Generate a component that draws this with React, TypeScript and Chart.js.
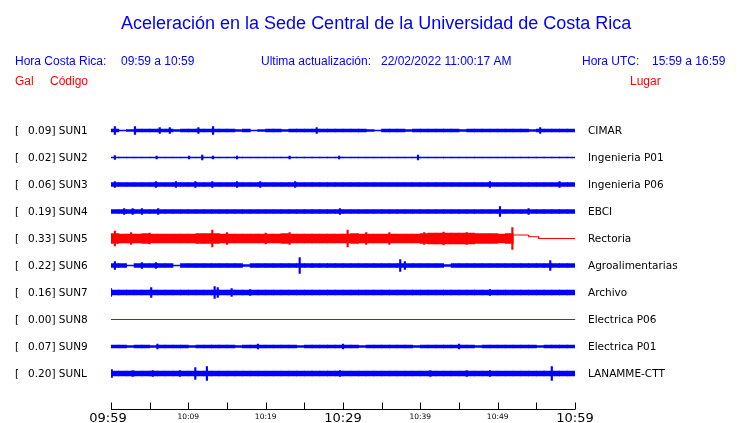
import React, { useEffect, useRef } from "react";
import { Chart, registerables } from "chart.js";

Chart.register(...registerables);

// ---- Data ----
const stations = ["SUN1", "SUN2", "SUN3", "SUN4", "SUN5", "SUN6", "SUN7", "SUN8", "SUN9", "SUNL"];
const peakGal = ["0.09", "0.02", "0.06", "0.19", "0.33", "0.22", "0.16", "0.00", "0.07", "0.20"];
const places = [
  "CIMAR", "Ingenieria P01", "Ingenieria P06", "EBCI", "Rectoria",
  "Agroalimentarias", "Archivo", "Electrica P06", "Electrica P01", "LANAMME-CTT",
];
const traceColors = [
  "#0000ff", "#0000ff", "#0000ff", "#0000ff", "#ff0000",
  "#0000ff", "#0000ff", "#e00000", "#0000ff", "#0000ff",
];

// time axis (minutes after 09:59)
const tickMinutes = [0, 5, 10, 15, 20, 25, 30, 35, 40, 45, 50, 55, 60];
const tickLabels = ["09:59", "", "10:09", "", "10:19", "", "10:29", "", "10:39", "", "10:49", "", "10:59"];
const majorTickLabels = ["09:59", "10:29", "10:59"];

// per-minute envelope half-amplitudes (counts) for each trace
const env1 = [1.5,0.5,1,1.5,1.5,1.5,1.5,1.5,1,1.5,1.5,1.5,1.5,1.5,1.5,1.5,1,1.5,0.5,1,1.5,1.5,1,1.5,1.5,1.5,1.5,1.5,1.5,1.5,1.5,1.5,1.5,1,0.5,1.5,1.5,1.5,1,1.5,1.5,1.5,1.5,1.5,1.5,1,1.5,1.5,1.5,1.5,1.5,1.5,1.5,1.5,1,1.5,1.5,1.5,1.5,1.5];
const env2 = [0.5,0.5,0.5,0.5,0.5,0.5,0.5,0.5,0.5,0.5,0.5,0.5,0.5,0.5,0.5,0.5,0.5,0.5,0.5,0.5,0.5,0.5,0.5,0.5,0.5,0.5,0.5,0.5,0.5,0.5,0.5,0.5,0.5,0.5,0.5,0.5,0.5,0.5,0.5,0.5,0.5,0.5,0.5,0.5,0.5,0.5,0.5,0.5,0.5,0.5,0.5,0.5,0.5,0.5,0.5,0.5,0.5,0.5,0.5,0.5];
const env3 = [2,2,2,2,2,2,2,2,2,2,2,2,2,2,2,2,2,2,2,2,2,2,2,2,2,2,2,2,2,2,2,2,2,2,2,2,2,2,2,2,2,2,2,2,2,2,2,2,2,2,2,2,2,2,2,2,2,2,2,2];
const env4 = [2,2,2,2,2,2,2,2,2,2,2,2,2,2,2,2,2,2,2,2,2,2,2,2,2,2,2,2,2,2,2,2,2,2,2,2,2,2,2,2,2,2,2,2,2,2,2,2,2,2,2,2,2,2,2,2,2,2,2,2];
const env5 = [5,4.5,4.5,4.5,5,4.5,4.5,4.5,4.5,4.5,4.5,5,5,5,4.5,4.5,4.5,4.5,4.5,4.5,4.5,4.5,5,4.5,4.5,4.5,4.5,4.5,4.5,4.5,4.5,5,4.5,4.5,4.5,4.5,4.5,4.5,4.5,4.5,5,5.5,5.5,5.5,5.5,5.5,5.5,5,5,5,4.5,5];
const env6 = [2,2,0.5,2,2,2,2,2,0.5,2,2,2,2,2,2,2,2,1,2,2,2,2,2,2,2,2,2,2,2,2,2,2,2,2,2,2,2,2,2,2,2,2,2,1,2,2,2,2,2,2,2,2,2,2,2,2,2,2,2,2];
const env7 = [2.5,2.5,2.5,2.5,2.5,2.5,2.5,2.5,2.5,2.5,2.5,2.5,2.5,2.5,2.5,2.5,2.5,2.5,2.5,2.5,2.5,2.5,2.5,2.5,2.5,2.5,2.5,2.5,2.5,2.5,2.5,2.5,2.5,2.5,2.5,2.5,2.5,2.5,2.5,2.5,2.5,2.5,2.5,2.5,2.5,2.5,2.5,2.5,2.5,2.5,2.5,2.5,2.5,2.5,2.5,2.5,2.5,2.5,2.5,2.5];
const env8 = [0.5,0.5,0.5,0.5,0.5,0.5,0.5,0.5,0.5,0.5,0.5,0.5,0.5,0.5,0.5,0.5,0.5,0.5,0.5,0.5,0.5,0.5,0.5,0.5,0.5,0.5,0.5,0.5,0.5,0.5,0.5,0.5,0.5,0.5,0.5,0.5,0.5,0.5,0.5,0.5,0.5,0.5,0.5,0.5,0.5,0.5,0.5,0.5,0.5,0.5,0.5,0.5,0.5,0.5,0.5,0.5,0.5,0.5,0.5,0.5];
const env9 = [1.5,1.5,1,1.5,1.5,1,1.5,1.5,1.5,1.5,1,1.5,1.5,1.5,1.5,1.5,1,1.5,1.5,1.5,1.5,1.5,1.5,1.5,1,1.5,1.5,1.5,1.5,1.5,1.5,1.5,1,1.5,1.5,1.5,1.5,1.5,1.5,1,1.5,1.5,1.5,1.5,1.5,1.5,1.5,1,1.5,1.5,1.5,1.5,1.5,1.5,1.5,1,1.5,1.5,1.5,1.5];
const env10 = [2.5,2.5,2.5,2.5,2.5,2.5,2.5,2.5,2.5,2.5,2.5,2.5,2.5,2.5,2.5,2.5,2.5,2.5,2.5,2.5,2.5,2.5,2.5,2.5,2.5,2.5,2.5,2.5,2.5,2.5,2.5,2.5,2.5,2.5,2.5,2.5,2.5,2.5,2.5,2.5,2.5,2.5,2.5,2.5,2.5,2.5,2.5,2.5,2.5,2.5,2.5,2.5,2.5,2.5,2.5,2.5,2.5,2.5,2.5,2.5];

// spikes: [minute, half-amplitude counts]
const spikes1 = [[0.5,4],[3.1,4],[6.3,3],[7.6,3],[11.3,3],[13.2,4],[26.6,3],[55.5,3]];
const spikes2 = [[0.5,2],[5.9,1.5],[10.1,1.5],[11.8,2.5],[13.2,1.5],[16.3,1.5],[23.1,1.5],[29.5,1.5],[39.7,2.5]];
const spikes3 = [[0.5,3],[5.8,3],[8.4,3],[10.9,3],[13.1,3],[16.3,3],[19.3,3],[23.8,3],[49,3],[58,3]];
const spikes4 = [[1.7,3],[2.8,3],[4,3],[6.1,3],[29.6,3],[50.3,5],[54,3]];
const spikes5 = [[0.5,7.5],[2.6,6],[5,5.5],[13.1,8.5],[15,6],[20,5.5],[23.1,6],[30.6,8.5],[33,6],[36,6],[40.5,6],[43,6.5],[46,6],[51.9,11]];
const spikes6 = [[0.5,4],[4,3],[5.8,3],[24.4,8],[37.4,6],[38,4],[56.8,5]];
const spikes7 = [[0,4],[5.2,5],[13.4,6],[13.8,5],[15.6,4],[18,3],[49,3]];
const spikes8: number[][] = [];
const spikes9 = [[6,2.5],[19,2.5],[30,2.5],[45,2.5]];
const spikes10 = [[0.1,4],[2.8,3],[5.4,3],[8.9,3],[10.9,6],[12.4,7],[29.6,3],[41.3,3],[46,3],[49,3],[57,7]];

// Rectoria after last sample: [minute, offset counts]
const tail5 = [[52.0, 3.5], [54.0, 3.5], [54.0, 1.8], [55.3, 1.8], [55.3, 0], [60, 0]];

const envelopes = [env1, env2, env3, env4, env5, env6, env7, env8, env9, env10];
const spikeSets = [spikes1, spikes2, spikes3, spikes4, spikes5, spikes6, spikes7, spikes8, spikes9, spikes10];

const COUNTS_PER_ROW = 27;

export default function App() {
  const ref = useRef<HTMLCanvasElement | null>(null);

  useEffect(() => {
    if (!ref.current) return;
    const datasets: any[] = [];
    envelopes.forEach((env, i) => {
      const row = i + 1;
      const color = traceColors[i];
      if (i === 7) {
        datasets.push({
          type: "line",
          data: [{ x: 0, y: row }, { x: 60, y: row }],
          borderColor: color,
          borderWidth: 1,
          pointRadius: 0,
        });
        return;
      }
      datasets.push({
        type: "bar",
        data: env.map((a, m) => ({ x: m + 0.5, y: [row - a / COUNTS_PER_ROW, row + a / COUNTS_PER_ROW] })),
        backgroundColor: color,
        barThickness: 8,
        grouped: false,
      });
      datasets.push({
        type: "bar",
        data: spikeSets[i].map(([m, a]) => ({ x: m, y: [row - a / COUNTS_PER_ROW, row + a / COUNTS_PER_ROW] })),
        backgroundColor: color,
        barThickness: 1.5,
        grouped: false,
      });
    });
    datasets.push({
      type: "line",
      data: tail5.map(([m, off]) => ({ x: m, y: 5 - off / COUNTS_PER_ROW })),
      borderColor: "#ff0000",
      borderWidth: 1,
      pointRadius: 0,
    });

    const textPlugin = {
      id: "seismoText",
      afterDraw(chart: any) {
        const ctx = chart.ctx as CanvasRenderingContext2D;
        const xs = chart.scales.x;
        const ys = chart.scales.y;
        ctx.save();
        // header
        ctx.textBaseline = "alphabetic";
        ctx.textAlign = "left";
        ctx.fillStyle = "#0000ff";
        ctx.font = "18px 'Liberation Sans', Arial, sans-serif";
        ctx.fillText("Aceleración en la Sede Central de la Universidad de Costa Rica", 121, 29);
        ctx.font = "12px 'Liberation Sans', Arial, sans-serif";
        ctx.fillText("Hora Costa Rica:", 15, 65);
        ctx.fillText("09:59 a 10:59", 121, 65);
        ctx.fillText("Ultima actualización:", 261, 65);
        ctx.fillText("22/02/2022 11:00:17 AM", 381, 65);
        ctx.fillText("Hora UTC:", 582, 65);
        ctx.fillText("15:59 a 16:59", 652, 65);
        ctx.fillStyle = "#ff0000";
        ctx.fillText("Gal", 15, 85);
        ctx.fillText("Código", 50, 85);
        ctx.fillText("Lugar", 630, 85);

        // station labels
        ctx.fillStyle = "#000000";
        ctx.font = "10.5px 'DejaVu Sans', sans-serif";
        ctx.textBaseline = "middle";
        stations.forEach((s, i) => {
          const y = ys.getPixelForValue(i + 1) + 1;
          ctx.fillText("[", 15, y);
          ctx.fillText(peakGal[i] + "] " + s, 28, y);
          ctx.fillText(places[i], 588, y);
        });

        // time axis
        const axisY = 409.5;
        ctx.strokeStyle = "#000000";
        ctx.lineWidth = 1;
        ctx.beginPath();
        ctx.moveTo(xs.getPixelForValue(0), axisY);
        ctx.lineTo(xs.getPixelForValue(60), axisY);
        tickMinutes.forEach((m) => {
          const x = Math.round(xs.getPixelForValue(m)) + 0.5;
          ctx.moveTo(x, axisY);
          ctx.lineTo(x, axisY - 7);
        });
        ctx.stroke();
        ctx.textAlign = "center";
        ctx.textBaseline = "alphabetic";
        tickMinutes.forEach((m, k) => {
          const label = tickLabels[k];
          if (!label) return;
          const x = xs.getPixelForValue(m);
          if (majorTickLabels.includes(label)) {
            ctx.font = "13px 'DejaVu Sans', sans-serif";
            ctx.fillText(label, x - (m === 0 ? 3 : 0), 422);
          } else {
            ctx.font = "7.5px 'DejaVu Sans', sans-serif";
            ctx.fillText(label, x, 419);
          }
        });
        ctx.restore();
      },
    };

    const chart = new Chart(ref.current, {
      type: "bar",
      data: { datasets },
      options: {
        animation: false,
        responsive: false,
        events: [],
        layout: { padding: { left: 111, right: 165, top: 103.5, bottom: 22.5 } },
        plugins: { legend: { display: false }, tooltip: { enabled: false } },
        scales: {
          x: { type: "linear", min: 0, max: 60, display: false, offset: false },
          y: { type: "linear", min: 0, max: 11, reverse: true, display: false },
        },
      },
      plugins: [textPlugin],
    });
    return () => chart.destroy();
  }, []);

  return (
    <div style={{ position: "absolute", left: 0, top: 0, width: 740, height: 423, background: "#fff" }}>
      <canvas ref={ref} width={740} height={423} style={{ display: "block" }} />
    </div>
  );
}
